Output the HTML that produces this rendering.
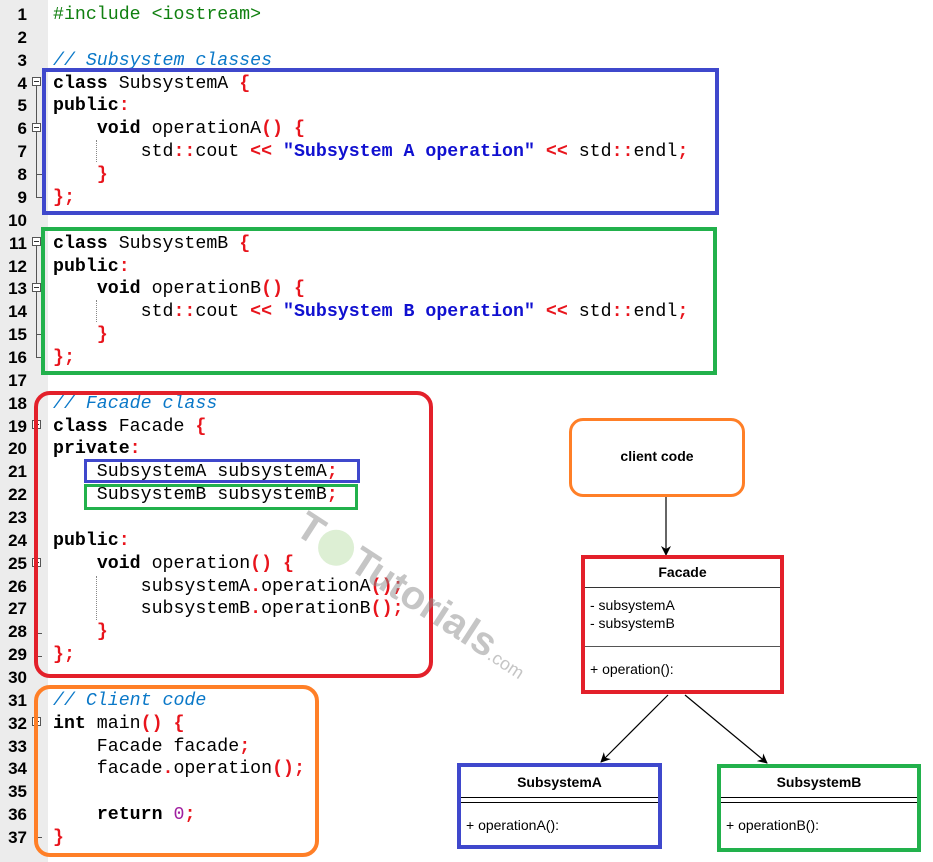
<!DOCTYPE html>
<html><head><meta charset="utf-8"><style>
body{margin:0;width:933px;height:862px;background:#fff;position:relative;overflow:hidden;font-family:"Liberation Sans",sans-serif}
#gut{position:absolute;left:0;top:0;width:48px;height:862px;background:#ececec}
.ln{position:absolute;left:0;width:27px;text-align:right;font:bold 17px "Liberation Sans",sans-serif;color:#000;height:22.86px;line-height:22.86px;margin-top:2px}
.c{position:absolute;left:53px;font-family:"Liberation Mono",monospace;font-size:18.25px;line-height:22.86px;height:22.86px;white-space:pre;color:#000;margin-top:2px}
.k{font-weight:bold}
.p{color:#e8141c;font-weight:bold}
.s{color:#1010d0;font-weight:bold}
.cm{color:#0a78c8;font-style:italic}
.g{color:#108010}
.n{color:#a020a0}
.box{position:absolute;box-sizing:border-box}
.fold{position:absolute;left:32px;width:9px;height:9px;border:1px solid #555;background:#fff;box-sizing:border-box}
.fold:after{content:"";position:absolute;left:1px;right:1px;top:3px;height:1px;background:#333}
.vl{position:absolute;left:36px;width:1px;background:#555}
.hl{position:absolute;left:36px;width:6px;height:1px;background:#555}
.dot{position:absolute;width:0;border-left:1px dotted #888}
.u{position:absolute;font-family:"Liberation Sans",sans-serif;font-size:14px;line-height:16px;color:#000}
</style></head><body>
<div id="gut"></div>
<div class="ln" style="top:2px">1</div><div class="ln" style="top:24.9px">2</div><div class="ln" style="top:47.7px">3</div><div class="ln" style="top:70.6px">4</div><div class="ln" style="top:93.4px">5</div><div class="ln" style="top:116.3px">6</div><div class="ln" style="top:139.2px">7</div><div class="ln" style="top:162px">8</div><div class="ln" style="top:184.9px">9</div><div class="ln" style="top:207.7px">10</div><div class="ln" style="top:230.6px">11</div><div class="ln" style="top:253.5px">12</div><div class="ln" style="top:276.3px">13</div><div class="ln" style="top:299.2px">14</div><div class="ln" style="top:322px">15</div><div class="ln" style="top:344.9px">16</div><div class="ln" style="top:367.8px">17</div><div class="ln" style="top:390.6px">18</div><div class="ln" style="top:413.5px">19</div><div class="ln" style="top:436.3px">20</div><div class="ln" style="top:459.2px">21</div><div class="ln" style="top:482.1px">22</div><div class="ln" style="top:504.9px">23</div><div class="ln" style="top:527.8px">24</div><div class="ln" style="top:550.6px">25</div><div class="ln" style="top:573.5px">26</div><div class="ln" style="top:596.4px">27</div><div class="ln" style="top:619.2px">28</div><div class="ln" style="top:642.1px">29</div><div class="ln" style="top:664.9px">30</div><div class="ln" style="top:687.8px">31</div><div class="ln" style="top:710.7px">32</div><div class="ln" style="top:733.5px">33</div><div class="ln" style="top:756.4px">34</div><div class="ln" style="top:779.2px">35</div><div class="ln" style="top:802.1px">36</div><div class="ln" style="top:825px">37</div>
<div class="vl" style="top:86px;height:112px"></div><div class="hl" style="top:174px"></div><div class="hl" style="top:197px"></div>
<div class="fold" style="top:77px"></div><div class="fold" style="top:123px"></div>
<div class="vl" style="top:246px;height:112px"></div><div class="hl" style="top:334px"></div><div class="hl" style="top:357px"></div>
<div class="fold" style="top:237px"></div><div class="fold" style="top:283px"></div>
<div class="vl" style="top:429px;height:229px"></div><div class="hl" style="top:633px"></div><div class="hl" style="top:656px"></div>
<div class="fold" style="top:420px"></div><div class="fold" style="top:558px"></div>
<div class="vl" style="top:726px;height:112px"></div><div class="hl" style="top:837px"></div>
<div class="fold" style="top:717px"></div>
<div class="dot" style="left:96px;top:140px;height:22px"></div>
<div class="dot" style="left:96px;top:300px;height:22px"></div>
<div class="dot" style="left:96px;top:576px;height:44px"></div>
<div class="c" style="top:2px"><span class="g">#include &lt;iostream&gt;</span></div>
<div class="c" style="top:47.7px"><span class="cm">// Subsystem classes</span></div>
<div class="c" style="top:70.6px"><span class="k">class</span> SubsystemA <span class="p">{</span></div>
<div class="c" style="top:93.4px"><span class="k">public</span><span class="p">:</span></div>
<div class="c" style="top:116.3px">    <span class="k">void</span> operationA<span class="p">()</span> <span class="p">{</span></div>
<div class="c" style="top:139.2px">        std<span class="p">::</span>cout <span class="p">&lt;&lt;</span> <span class="s">"Subsystem A operation"</span> <span class="p">&lt;&lt;</span> std<span class="p">::</span>endl<span class="p">;</span></div>
<div class="c" style="top:162px">    <span class="p">}</span></div>
<div class="c" style="top:184.9px"><span class="p">};</span></div>
<div class="c" style="top:230.6px"><span class="k">class</span> SubsystemB <span class="p">{</span></div>
<div class="c" style="top:253.5px"><span class="k">public</span><span class="p">:</span></div>
<div class="c" style="top:276.3px">    <span class="k">void</span> operationB<span class="p">()</span> <span class="p">{</span></div>
<div class="c" style="top:299.2px">        std<span class="p">::</span>cout <span class="p">&lt;&lt;</span> <span class="s">"Subsystem B operation"</span> <span class="p">&lt;&lt;</span> std<span class="p">::</span>endl<span class="p">;</span></div>
<div class="c" style="top:322px">    <span class="p">}</span></div>
<div class="c" style="top:344.9px"><span class="p">};</span></div>
<div class="c" style="top:390.6px"><span class="cm">// Facade class</span></div>
<div class="c" style="top:413.5px"><span class="k">class</span> Facade <span class="p">{</span></div>
<div class="c" style="top:436.3px"><span class="k">private</span><span class="p">:</span></div>
<div class="c" style="top:459.2px">    SubsystemA subsystemA<span class="p">;</span></div>
<div class="c" style="top:482.1px">    SubsystemB subsystemB<span class="p">;</span></div>
<div class="c" style="top:527.8px"><span class="k">public</span><span class="p">:</span></div>
<div class="c" style="top:550.6px">    <span class="k">void</span> operation<span class="p">()</span> <span class="p">{</span></div>
<div class="c" style="top:573.5px">        subsystemA<span class="p">.</span>operationA<span class="p">();</span></div>
<div class="c" style="top:596.4px">        subsystemB<span class="p">.</span>operationB<span class="p">();</span></div>
<div class="c" style="top:619.2px">    <span class="p">}</span></div>
<div class="c" style="top:642.1px"><span class="p">};</span></div>
<div class="c" style="top:687.8px"><span class="cm">// Client code</span></div>
<div class="c" style="top:710.7px"><span class="k">int</span> main<span class="p">()</span> <span class="p">{</span></div>
<div class="c" style="top:733.5px">    Facade facade<span class="p">;</span></div>
<div class="c" style="top:756.4px">    facade<span class="p">.</span>operation<span class="p">();</span></div>
<div class="c" style="top:802.1px">    <span class="k">return</span> <span class="n">0</span><span class="p">;</span></div>
<div class="c" style="top:825px"><span class="p">}</span></div>
<div class="box" style="left:42px;top:68px;width:677px;height:147px;border:4px solid #3f48cc"></div>
<div class="box" style="left:41px;top:227px;width:676px;height:148px;border:4px solid #22b14c"></div>
<div class="box" style="left:34px;top:391px;width:399px;height:287px;border:4px solid #e3202a;border-radius:16px"></div>
<div class="box" style="left:84px;top:459px;width:276px;height:24px;border:3px solid #3f48cc"></div>
<div class="box" style="left:84px;top:484px;width:274px;height:26px;border:3px solid #22b14c"></div>
<div class="box" style="left:34px;top:685px;width:285px;height:172px;border:4px solid #ff7f27;border-radius:16px"></div>
<div style="position:absolute;left:300px;top:500px;transform:rotate(33deg);transform-origin:left center;font:bold 40px 'Liberation Sans',sans-serif;color:rgba(140,140,140,0.5);white-space:nowrap">T<span style="display:inline-block;width:36px;height:36px;border-radius:50%;background:rgba(180,220,160,0.45);vertical-align:middle;margin:0 2px"></span>Tutorials<span style="font-size:18px;font-weight:normal">.com</span></div>
<div class="box" style="left:569px;top:418px;width:176px;height:79px;border:3px solid #ff7f27;border-radius:14px"></div>
<div class="u" style="left:569px;top:448px;width:176px;text-align:center;font-weight:bold">client code</div>
<svg style="position:absolute;left:0;top:0" width="933" height="862">
<defs><marker id="a" markerWidth="10" markerHeight="10" refX="9" refY="5" orient="auto" markerUnits="userSpaceOnUse"><path d="M0,0 L10,5 L0,10 L3,5 z" fill="#000"/></marker></defs>
<line x1="666" y1="497" x2="666" y2="555" stroke="#000" stroke-width="1.2" marker-end="url(#a)"/>
<line x1="668" y1="695" x2="601" y2="762" stroke="#000" stroke-width="1.2" marker-end="url(#a)"/>
<line x1="685" y1="695" x2="767" y2="763" stroke="#000" stroke-width="1.2" marker-end="url(#a)"/>
</svg>
<div class="box" style="left:581px;top:555px;width:203px;height:139px;border:4px solid #e3202a"></div>
<div style="position:absolute;left:585px;top:587px;width:195px;height:1px;background:#333"></div>
<div style="position:absolute;left:585px;top:646px;width:195px;height:1px;background:#555"></div>
<div class="u" style="left:581px;top:564px;width:203px;text-align:center;font-weight:bold">Facade</div>
<div class="u" style="left:590px;top:596px;line-height:18px">- subsystemA<br>- subsystemB</div>
<div class="u" style="left:590px;top:661px">+ operation():</div>
<div class="box" style="left:457px;top:763px;width:205px;height:86px;border:4px solid #3f48cc"></div>
<div style="position:absolute;left:461px;top:797px;width:197px;height:6px;border-top:1px solid #000;border-bottom:1px solid #000;box-sizing:border-box"></div>
<div class="u" style="left:457px;top:774px;width:205px;text-align:center;font-weight:bold">SubsystemA</div>
<div class="u" style="left:466px;top:817px">+ operationA():</div>
<div class="box" style="left:717px;top:764px;width:204px;height:88px;border:4px solid #22b14c"></div>
<div style="position:absolute;left:721px;top:797px;width:196px;height:6px;border-top:1px solid #000;border-bottom:1px solid #000;box-sizing:border-box"></div>
<div class="u" style="left:717px;top:774px;width:204px;text-align:center;font-weight:bold">SubsystemB</div>
<div class="u" style="left:726px;top:817px">+ operationB():</div>
</body></html>
